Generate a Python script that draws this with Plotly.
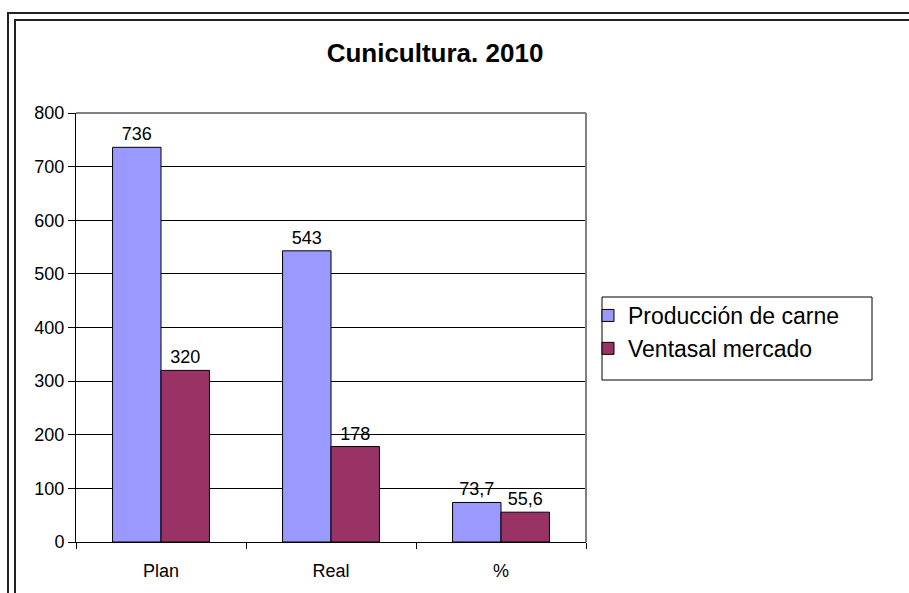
import plotly.graph_objects as go

categories = ["Plan", "Real", "%"]
produccion = [736, 543, 73.7]
ventas = [320, 178, 55.6]
series_names = ["Producción de carne", "Ventasal mercado"]
y_ticks = [0, 100, 200, 300, 400, 500, 600, 700, 800]
title_text = "Cunicultura. 2010"


def fmt(v):
    return f"{v:g}".replace(".", ",")


FONT = "Liberation Sans, Arial, sans-serif"
W, H = 909, 593
L, R, T, B = 76, 586, 113, 542


def px_x(px):
    return (px - L) / (R - L)


def px_y(py):
    return (B - py) / (B - T)


fig = go.Figure()
fig.add_trace(go.Bar(
    x=categories, y=produccion, name=series_names[0],
    marker=dict(color="#9999FF", line=dict(color="black", width=1)),
    text=[fmt(v) for v in produccion], textposition="outside",
    textfont=dict(size=18, color="black", family=FONT), cliponaxis=False,
))
fig.add_trace(go.Bar(
    x=categories, y=ventas, name=series_names[1],
    marker=dict(color="#993366", line=dict(color="black", width=1)),
    text=[fmt(v) for v in ventas], textposition="outside",
    textfont=dict(size=18, color="black", family=FONT), cliponaxis=False,
))

frame = dict(color="#222", width=2)
shapes = [
    # outer double frame (top and left edges visible)
    dict(type="line", xref="paper", yref="paper", x0=px_x(7), x1=px_x(W + 20), y0=px_y(13), y1=px_y(13), line=frame),
    dict(type="line", xref="paper", yref="paper", x0=px_x(8), x1=px_x(8), y0=px_y(12), y1=px_y(H + 20), line=frame),
    dict(type="line", xref="paper", yref="paper", x0=px_x(14), x1=px_x(W + 20), y0=px_y(20), y1=px_y(20), line=frame),
    dict(type="line", xref="paper", yref="paper", x0=px_x(15), x1=px_x(15), y0=px_y(19), y1=px_y(H + 20), line=frame),
    # plot border top/right grey
    dict(type="line", xref="paper", yref="paper", x0=0, x1=1, y0=1, y1=1,
         line=dict(color="#808080", width=2), layer="above"),
    dict(type="line", xref="paper", yref="paper", x0=1, x1=1, y0=0, y1=1,
         line=dict(color="#808080", width=2), layer="above"),
    # legend box
    dict(type="rect", xref="paper", yref="paper", x0=px_x(602), x1=px_x(872), y0=px_y(297), y1=px_y(380),
         line=dict(color="black", width=1), layer="above"),
]

fig.update_layout(
    width=W, height=H,
    margin=dict(l=L, r=W - R, t=T, b=H - B, pad=0),
    paper_bgcolor="white", plot_bgcolor="white",
    font=dict(family=FONT, color="black", size=18),
    title=dict(text=f"<b>{title_text}</b>", x=435 / W, y=1 - 53 / H, xref="container", yref="container",
               xanchor="center", yanchor="middle", font=dict(size=26, color="black", family=FONT)),
    barmode="group", bargap=0.43, bargroupgap=0,
    showlegend=True,
    legend=dict(x=px_x(588), y=px_y(294), xanchor="left", yanchor="top",
                font=dict(size=23, color="black", family=FONT),
                bgcolor="rgba(0,0,0,0)", borderwidth=0, itemwidth=30),
    shapes=shapes,
    xaxis=dict(showline=True, linecolor="black", linewidth=1, ticks="outside", tickson="boundaries",
               ticklen=6, tickcolor="black", showgrid=False, tickfont=dict(size=18),
               ticklabelstandoff=12),
    yaxis=dict(range=[0, 800], tickvals=y_ticks, showline=True, linecolor="black", linewidth=1,
               ticks="outside", ticklen=7, tickcolor="black", showgrid=True, gridcolor="black",
               gridwidth=1, zeroline=False, tickfont=dict(size=18)),
)

fig.write_html("out.html")
